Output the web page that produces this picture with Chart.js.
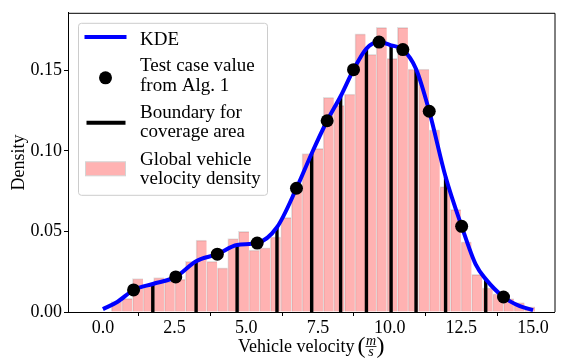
<!DOCTYPE html>
<html>
<head>
<meta charset="utf-8">
<script src="https://cdn.jsdelivr.net/npm/chart.js@4/dist/chart.umd.min.js"></script>
<style>
  html, body { margin: 0; padding: 0; background: #fff; }
  canvas { display: block; }
</style>
</head>
<body>
<canvas id="chart" width="561" height="363"></canvas>
<script>
// Histogram of observed vehicle velocities (bin centres in m/s, density per bin)
const binCenters = [
  0.475, 0.844, 1.214, 1.583, 1.953, 2.322, 2.692, 3.061, 3.431, 3.800,
  4.170, 4.539, 4.909, 5.278, 5.648, 6.017, 6.387, 6.756, 7.126, 7.495,
  7.865, 8.234, 8.604, 8.973, 9.343, 9.712, 10.082, 10.451, 10.821, 11.190,
  11.560, 11.929, 12.299, 12.668, 13.038, 13.407, 13.777, 14.146, 14.516, 14.885
];
const binDensity = [
  0.0065, 0.0085, 0.0208, 0.0163, 0.0214, 0.0190, 0.0204, 0.0315, 0.0446, 0.0315,
  0.0274, 0.0455, 0.0500, 0.0385, 0.0399, 0.0466, 0.0587, 0.0750, 0.0984, 0.1016,
  0.1333, 0.1283, 0.1353, 0.1726, 0.1600, 0.1767, 0.1574, 0.1767, 0.1508, 0.1508,
  0.1131, 0.0778, 0.0637, 0.0436, 0.0234, 0.0150, 0.0113, 0.0083, 0.0059, 0.0032
];

// Kernel density estimate of the same velocities
const kdeX = [0.0, 0.5, 1.07, 1.74, 2.54, 3.25, 3.99, 4.68, 5.38, 6.07, 6.75, 7.28, 7.82,
  8.29, 8.74, 9.19, 9.63, 10.05, 10.46, 10.92, 11.38, 11.95, 12.51, 13.0, 13.35, 13.97, 14.54, 15.0];
const kdeY = [0.0018, 0.0062, 0.0137, 0.0174, 0.0218, 0.0315, 0.0359, 0.0416, 0.0428, 0.0526, 0.0768, 0.0984, 0.1187,
  0.1339, 0.1504, 0.1635, 0.1675, 0.1655, 0.1629, 0.1508, 0.1246, 0.0839, 0.0532, 0.0295, 0.0204, 0.0093, 0.0036, 0.0012];

// Test case velocities chosen by Alg. 1 and their density
const testX = [1.07, 2.54, 3.99, 5.38, 6.75, 7.82, 8.74, 9.63, 10.46, 11.38, 12.51, 13.97];
const testY = [0.0137, 0.0218, 0.0359, 0.0428, 0.0768, 0.1187, 0.1504, 0.1675, 0.1629, 0.1246, 0.0532, 0.0093];

// Boundaries between coverage areas, drawn up to the KDE
const boundaryX = [1.74, 3.25, 4.68, 6.07, 7.28, 8.29, 9.19, 10.05, 10.92, 11.95, 13.35];
const boundaryTop = [0.0174, 0.0315, 0.0416, 0.0526, 0.0984, 0.1339, 0.1635, 0.1655, 0.1508, 0.0839, 0.0204];

const xTicks = [0, 2.5, 5, 7.5, 10, 12.5, 15];
const yTicks = [0, 0.05, 0.10, 0.15];

const legendLabels = [
  ['KDE'],
  ['Test case value', 'from Alg. 1'],
  ['Boundary for', 'coverage area'],
  ['Global vehicle', 'velocity density']
];
const xTitle = 'Vehicle velocity';
const yTitle = 'Density';

const SERIF = '"Liberation Serif", "DejaVu Serif", serif';
const BLUE = '#0000ff';
const PINK = 'rgba(255, 0, 0, 0.3)';
const EDGE = '#e2e2e2';

const boundaryData = [];
boundaryX.forEach((x, i) => {
  boundaryData.push({ x: x, y: 0 }, { x: x, y: boundaryTop[i] }, { x: x, y: null });
});

// Frame, axis titles and legend box
const decorations = {
  id: 'decorations',
  afterDatasetsDraw(chart) {
    const { ctx, chartArea: a } = chart;
    ctx.save();
    ctx.strokeStyle = '#000';
    ctx.lineWidth = 1;
    ctx.beginPath();
    ctx.moveTo(a.left, a.top + 0.5);
    ctx.lineTo(a.right + 0.5, a.top + 0.5);
    ctx.lineTo(a.right + 0.5, a.bottom);
    ctx.stroke();
    ctx.restore();
  },
  afterDraw(chart) {
    const { ctx, chartArea: a } = chart;
    ctx.save();
    ctx.fillStyle = '#000';
    ctx.strokeStyle = '#000';

    // x-axis title: "Vehicle velocity (m/s)" with a stacked fraction
    ctx.font = '18px ' + SERIF;
    const wText = ctx.measureText(xTitle).width;
    ctx.font = '24px ' + SERIF;
    const wParen = ctx.measureText('(').width;
    const wFrac = 11, gap = 3;
    const total = wText + gap + wParen + wFrac + wParen;
    let x = (a.left + a.right) / 2 - total / 2;
    const base = a.bottom + 40;
    ctx.textBaseline = 'alphabetic';
    ctx.textAlign = 'left';
    ctx.font = '18px ' + SERIF;
    ctx.fillText(xTitle, x, base);
    x += wText + gap;
    ctx.font = '24px ' + SERIF;
    ctx.fillText('(', x, base + 1);
    x += wParen;
    ctx.font = 'italic 14px ' + SERIF;
    ctx.textAlign = 'center';
    ctx.fillText('m', x + wFrac / 2, base - 7);
    ctx.fillText('s', x + wFrac / 2, base + 4);
    ctx.lineWidth = 0.8;
    ctx.beginPath();
    ctx.moveTo(x, base - 5.5);
    ctx.lineTo(x + wFrac, base - 5.5);
    ctx.stroke();
    x += wFrac;
    ctx.textAlign = 'left';
    ctx.font = '24px ' + SERIF;
    ctx.fillText(')', x, base + 1);

    // y-axis title
    ctx.save();
    ctx.translate(24, (a.top + a.bottom) / 2);
    ctx.rotate(-Math.PI / 2);
    ctx.font = '18px ' + SERIF;
    ctx.textAlign = 'center';
    ctx.textBaseline = 'alphabetic';
    ctx.fillText(yTitle, 0, 0);
    ctx.restore();

    // legend
    const lx = a.left + 10.5, ly = a.top + 10.5, lw = 189, lh = 172;
    ctx.beginPath();
    ctx.roundRect(lx, ly, lw, lh, 3);
    ctx.fillStyle = 'rgba(255,255,255,0.8)';
    ctx.fill();
    ctx.strokeStyle = '#cccccc';
    ctx.lineWidth = 1;
    ctx.stroke();

    const hx0 = lx + 7, hx1 = lx + 47, tx = lx + 61.5;
    // KDE handle
    ctx.strokeStyle = BLUE;
    ctx.lineWidth = 4;
    ctx.lineCap = 'butt';
    ctx.beginPath();
    ctx.moveTo(hx0 - 1, ly + 13.8);
    ctx.lineTo(hx1 + 1, ly + 13.8);
    ctx.stroke();
    // test case marker
    ctx.fillStyle = '#000';
    ctx.beginPath();
    ctx.arc((hx0 + hx1) / 2, ly + 54.5, 6.5, 0, Math.PI * 2);
    ctx.fill();
    // boundary handle
    ctx.strokeStyle = '#000';
    ctx.lineWidth = 4;
    ctx.beginPath();
    ctx.moveTo(hx0 + 1, ly + 99.5);
    ctx.lineTo(hx1, ly + 99.5);
    ctx.stroke();
    // histogram patch
    ctx.fillStyle = PINK;
    ctx.fillRect(hx0, ly + 138.5, hx1 - hx0, 14);
    ctx.strokeStyle = '#d4d4d4';
    ctx.lineWidth = 1;
    ctx.strokeRect(hx0, ly + 138.5, hx1 - hx0, 14);

    ctx.fillStyle = '#000';
    ctx.font = '19px ' + SERIF;
    ctx.textAlign = 'left';
    ctx.textBaseline = 'alphabetic';
    const baselines = [[21.2], [47.8, 67.8], [94.5, 113.5], [141.2, 160.5]];
    legendLabels.forEach((lines, i) => {
      lines.forEach((t, j) => ctx.fillText(t, tx, ly + baselines[i][j]));
    });
    ctx.restore();
  }
};

new Chart(document.getElementById('chart').getContext('2d'), {
  type: 'bar',
  data: {
    datasets: [
      {
        type: 'line',
        label: 'KDE',
        data: kdeX.map((x, i) => ({ x: x, y: kdeY[i] })),
        borderColor: BLUE,
        borderWidth: 4,
        pointRadius: 0,
        cubicInterpolationMode: 'monotone',
        fill: false,
        order: 1
      },
      {
        type: 'line',
        label: 'Test case value from Alg. 1',
        data: testX.map((x, i) => ({ x: x, y: testY[i] })),
        showLine: false,
        pointRadius: 6.5,
        pointBackgroundColor: '#000',
        pointBorderWidth: 0,
        order: 0
      },
      {
        type: 'line',
        label: 'Boundary for coverage area',
        data: boundaryData,
        borderColor: '#000',
        borderWidth: 3.4,
        borderCapStyle: 'butt',
        pointRadius: 0,
        spanGaps: false,
        tension: 0,
        order: 2
      },
      {
        type: 'bar',
        label: 'Global vehicle velocity density',
        data: binCenters.map((x, i) => ({ x: x, y: binDensity[i] })),
        backgroundColor: PINK,
        borderColor: EDGE,
        borderWidth: { top: 1, left: 1, right: 0, bottom: 0 },
        borderSkipped: false,
        barPercentage: 1,
        categoryPercentage: 1,
        order: 3
      }
    ]
  },
  options: {
    responsive: false,
    animation: false,
    devicePixelRatio: 1,
    layout: { padding: { top: 5, right: 1, left: 0, bottom: 0 } },
    plugins: { legend: { display: false }, tooltip: { enabled: false } },
    scales: {
      x: {
        type: 'linear',
        min: -1.217,
        max: 15.748,
        offset: false,
        afterBuildTicks: s => { s.ticks = xTicks.map(v => ({ value: v })); },
        afterFit: s => { s.height = 51; },
        grid: { display: true, drawOnChartArea: false, drawTicks: true, tickLength: 4, color: '#000', lineWidth: 1 },
        border: { display: true, color: '#000', width: 1 },
        ticks: {
          color: '#000',
          font: { family: SERIF, size: 18 },
          padding: 1,
          maxRotation: 0,
          autoSkip: false,
          callback: v => Number(v).toFixed(1)
        }
      },
      y: {
        type: 'linear',
        min: 0,
        max: 0.1857,
        afterBuildTicks: s => { s.ticks = yTicks.map(v => ({ value: v })); },
        afterFit: s => { s.width = 68; },
        grid: { display: true, drawOnChartArea: false, drawTicks: true, tickLength: 4, color: '#000', lineWidth: 1 },
        border: { display: true, color: '#000', width: 1 },
        ticks: {
          color: '#000',
          font: { family: SERIF, size: 18 },
          padding: 2,
          autoSkip: false,
          callback: v => Number(v).toFixed(2)
        }
      }
    }
  },
  plugins: [decorations]
});
</script>
</body>
</html>
